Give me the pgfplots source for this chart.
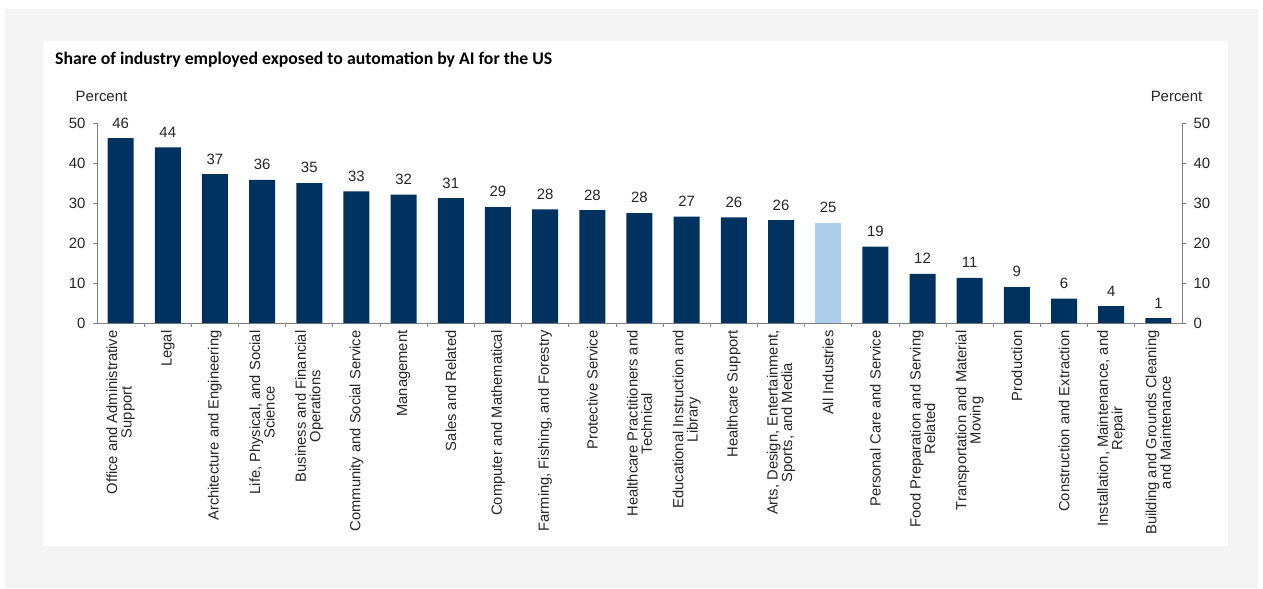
\documentclass[border=0pt]{standalone}
\usepackage{pgfplots}
\pgfplotsset{compat=1.18}
\usepackage{fontspec}
\setmainfont{Liberation Sans}
\newfontfamily\titlefont{Carlito}
\definecolor{navy}{RGB}{0,50,96}
\definecolor{lightb}{RGB}{170,206,236}
\definecolor{bgray}{RGB}{244,244,244}
\definecolor{axgray}{RGB}{128,128,128}
\definecolor{txt}{RGB}{38,38,38}
\begin{document}
\begin{tikzpicture}[x=1bp,y=1bp]
\useasboundingbox (0,0) rectangle (1263,-589);
\fill[white] (0,0) rectangle (1263,-589);
\fill[bgray] (5,-9) rectangle (1258,-588);
\fill[white] (43,-41) rectangle (1228,-546);
\node[anchor=base west, inner sep=0pt, font=\titlefont\bfseries\fontsize{17.8}{20}\selectfont, text=black] at (55,-65) {Share of industry employed exposed to automation by AI for the US};
\node[anchor=base, inner sep=0pt, font=\fontsize{15}{17}\selectfont, text=txt] at (101.5,-102) {Percent};
\node[anchor=base, inner sep=0pt, font=\fontsize{15}{17}\selectfont, text=txt] at (1176.5,-102) {Percent};
\begin{axis}[
  at={(97bp,-323bp)}, anchor=south west, scale only axis,
  width=1085bp, height=200bp,
  xmin=-0.5, xmax=22.5, ymin=0, ymax=50,
  axis y line*=left, axis x line*=bottom,
  axis line style={axgray, line width=0.8bp, -},
  ytick={0,10,...,50},
  xtick={0,...,22},
  minor x tick num=1,
  major x tick style={draw=none},
  tick align=outside,
  major tick length=4bp, minor tick length=4bp,
  tick style={axgray, line width=0.8bp},
  /pgf/number format/assume math mode=true,
  yticklabel style={font=\fontsize{15}{17}\selectfont, text=txt, xshift=-4bp},
  xticklabel style={rotate=90, anchor=east, align=center, font=\fontsize{14.8}{14.5}\selectfont, text=txt},
  xticklabels={
    {Office and Administrative\\Support},
    {Legal},
    {Architecture and Engineering},
    {Life, Physical, and Social\\Science},
    {Business and Financial\\Operations},
    {Community and Social Service},
    {Management},
    {Sales and Related},
    {Computer and Mathematical},
    {Farming, Fishing, and Forestry},
    {Protective Service},
    {Healthcare Practitioners and\\Technical},
    {Educational Instruction and\\Library},
    {Healthcare Support},
    {Arts, Design, Entertainment,\\Sports, and Media},
    {All Industries},
    {Personal Care and Service},
    {Food Preparation and Serving\\Related},
    {Transportation and Material\\Moving},
    {Production},
    {Construction and Extraction},
    {Installation, Maintenance, and\\Repair},
    {Building and Grounds Cleaning\\and Maintenance}},
  ybar, bar width=26bp, bar shift=0pt,
  point meta=y,
  nodes near coords={\pgfmathprintnumber[fixed,precision=0]{\pgfplotspointmeta}},
  nodes near coords style={font=\fontsize{15}{17}\selectfont, text=txt, yshift=6.5bp, /pgf/number format/assume math mode=true},
]
\addplot[fill=navy, draw=none] coordinates {
(0,46.2) (1,43.9) (2,37.2) (3,35.8) (4,35.0) (5,32.9) (6,32.1) (7,31.2)
(8,29.0) (9,28.4) (10,28.2) (11,27.5) (12,26.6) (13,26.4) (14,25.7)
(16,19.1) (17,12.3) (18,11.3) (19,9.0) (20,6.1) (21,4.2) (22,1.2)};
\addplot[fill=lightb, draw=none] coordinates {(15,25.1)};
\end{axis}
\begin{axis}[
  at={(97bp,-323bp)}, anchor=south west, scale only axis,
  width=1085bp, height=200bp,
  xmin=-0.5, xmax=22.5, ymin=0, ymax=50,
  axis y line*=right, axis x line=none,
  axis line style={axgray, line width=0.8bp, -},
  ytick={0,10,...,50},
  tick align=outside,
  major tick length=4bp,
  tick style={axgray, line width=0.8bp},
  /pgf/number format/assume math mode=true,
  yticklabel style={font=\fontsize{15}{17}\selectfont, text=txt, xshift=4bp},
]
\end{axis}
\end{tikzpicture}
\end{document}
